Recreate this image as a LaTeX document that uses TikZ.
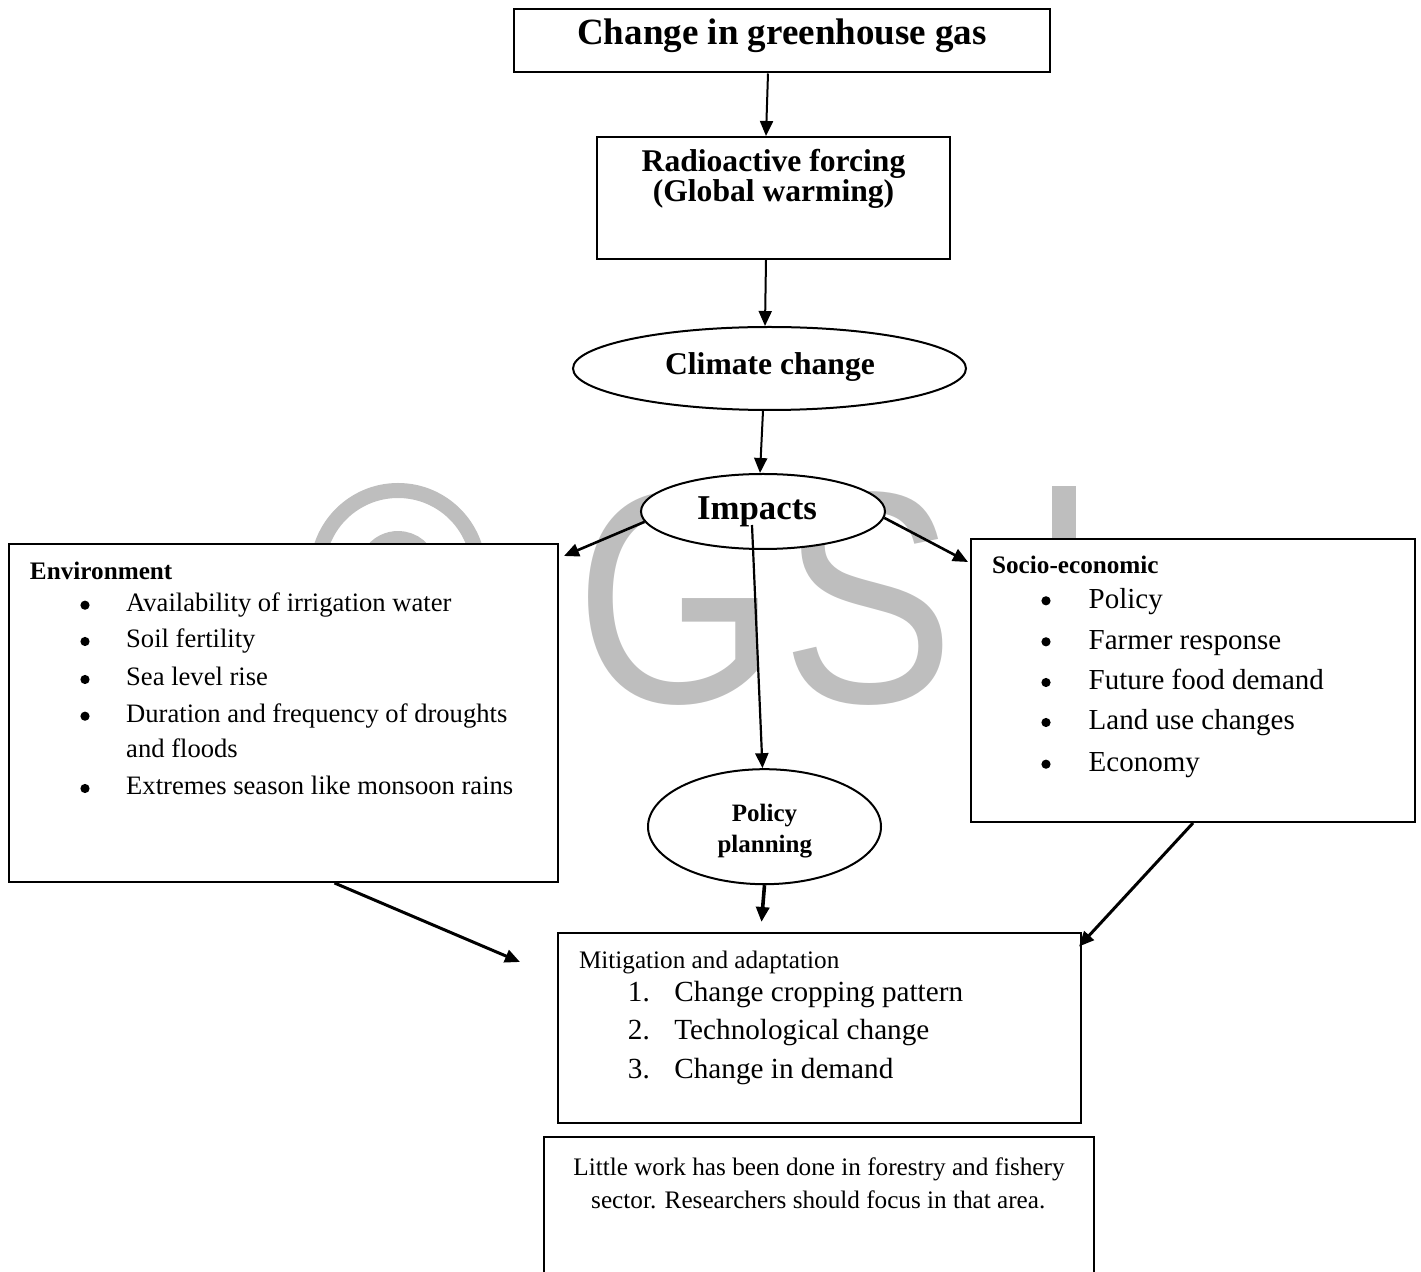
\documentclass[tikz,border=0pt]{standalone}
\usepackage{fontspec}
\usepackage{graphicx}
\setmainfont{Liberation Serif}
\newfontfamily\wmfont{Liberation Sans}
\usetikzlibrary{arrows.meta,shapes.geometric}
\definecolor{wmgray}{RGB}{190,190,190}
\newcommand{\fs}[1]{\fontsize{#1}{#1}\selectfont}
\tikzset{
  box/.style={draw, line width=1pt, fill=white, rectangle, inner sep=0pt},
  oval/.style={draw, line width=1pt, fill=white, ellipse, inner sep=0pt},
  arr/.style={-{Triangle[length=7.5pt,width=6.5pt]}, line width=1pt},
  txt/.style={inner sep=0pt, anchor=base west},
  ctxt/.style={inner sep=0pt, anchor=base},
  bul/.style={circle, fill=black, inner sep=0pt, minimum size=4.6pt},
  wmtxt/.style={inner sep=0pt, anchor=base west, text=wmgray, font=\wmfont\fs{151}}
}
\begin{document}
\begin{tikzpicture}[x=0.5pt,y=-0.5pt]
\useasboundingbox (0,0) rectangle (1421,1272);
% watermark
\draw[wmgray, line width=7.5pt] (398,571) circle[radius=80.5];
\draw[wmgray, line width=7.5pt] (398,571) ++(40:32.5) arc[start angle=40,end angle=320,radius=32.5];
\node[wmtxt] (wmG) at (575.5,703) {\scalebox{0.86}[1]{G}};
\node[wmtxt] (wmS) at (781,703) {\scalebox{0.86}[1]{S}};
\fill[wmgray] (1052,486) rectangle (1076,703);
% shapes
\node[box, minimum width=268pt, minimum height=31.75pt] (title) at (782,40.75) {};
\node[box, minimum width=176.5pt, minimum height=61pt] (radio) at (773.5,198) {};
\node[oval, minimum width=196.5pt, minimum height=41.5pt] (climate) at (769.5,368.5) {};
\node[oval, minimum width=122pt, minimum height=37.5pt] (impacts) at (763,511.5) {};
\node[box, minimum width=274.5pt, minimum height=169pt] (env) at (283.5,713) {};
\node[box, minimum width=222pt, minimum height=141.5pt] (socio) at (1193,680.5) {};
\node[oval, minimum width=116.5pt, minimum height=57.5pt] (pp) at (764.5,826.7) {};
\node[box, minimum width=261.5pt, minimum height=95pt] (mitig) at (819.5,1028) {};
\node[box, minimum width=275pt, minimum height=76.5pt] (note) at (819,1213.5) {};
% connectors
\draw[arr] ([xshift=-7pt]title.south) -- ([xshift=-3.75pt]radio.north);
\draw[arr] ([xshift=-3.75pt]radio.south) -- ([xshift=-2.25pt]climate.north);
\draw[arr] ([xshift=-3.25pt]climate.south) -- ([xshift=-1.5pt]impacts.north);
\draw[arr, line width=1.3pt] (impacts.185) -- ([shift={(5,13)}]env.north east);
\draw[arr, line width=1.3pt] (impacts.-3) -- ([shift={(-2,24)}]socio.north west);
\draw[arr, line width=1.1pt] ([shift={(-11,13.5)}]impacts.center) -- ([xshift=-1pt]pp.north);
\draw[arr, line width=1.8pt] (pp.south) -- ([shift={(-58,-10)}]mitig.north);
\draw[arr, line width=1.5pt] ([shift={(51,0)}]env.south) -- ([shift={(-37,30)}]mitig.north west);
\draw[arr, line width=1.5pt] (socio.south) -- ([shift={(-3,14.5)}]mitig.north east);
% texts
\node[ctxt, font=\bfseries\fs{18.5}] (tTitle) at (782,45) {Change in greenhouse gas};
\node[ctxt, font=\bfseries\fs{15.8}] (tRadA) at (773.5,172) {Radioactive forcing};
\node[ctxt, font=\bfseries\fs{15.8}] (tRadB) at (773.5,201.7) {(Global warming)};
\node[ctxt, font=\bfseries\fs{15.8}] (tClim) at (770,375) {Climate change};
\node[ctxt, font=\bfseries\fs{17.4}] (tImp) at (757,520) {Impacts};
% environment
\node[txt, font=\bfseries\fs{12.6}] (tEnv) at (29.6,580) {Environment};
\foreach \yy/\lbl [count=\i] in {611.7/Availability of irrigation water, 648/Soil fertility, 686/Sea level rise, 722.7/Duration and frequency of droughts, 795/Extremes season like monsoon rains}{
  \node[bul] (envb\i) at (85,\yy-6.5) {};
  \node[txt, font=\fs{13.3}] (envt\i) at (125.8,\yy) {\lbl};
}
\node[txt, font=\fs{13.3}] (envtx) at (125.8,758) {and floods};
% socio-economic
\node[txt, font=\bfseries\fs{12.6}] (tSoc) at (991.7,573.3) {Socio-economic};
\foreach \yy/\lbl [count=\i] in {608.3/Policy, 649.3/Farmer response, 690/Future food demand, 730/Land use changes, 771.7/Economy}{
  \node[bul] (socb\i) at (1046,\yy-7.5) {};
  \node[txt, font=\fs{14.5}] (soct\i) at (1088.3,\yy) {\lbl};
}
% policy planning
\node[ctxt, font=\bfseries\fs{12.5}] (tPolA) at (764.5,821.7) {Policy};
\node[ctxt, font=\bfseries\fs{12.5}] (tPolB) at (764.8,853) {planning};
% mitigation
\node[txt, font=\fs{12.6}] (tMit) at (578.6,968.3) {Mitigation and adaptation};
\foreach \yy/\lbl [count=\i] in {1001.7/Change cropping pattern, 1040/Technological change, 1078.3/Change in demand}{
  \node[txt, font=\fs{14.6}] (mitn\i) at (627.5,\yy) {\i.};
  \node[txt, font=\fs{14.6}] (mitt\i) at (674,\yy) {\lbl};
}
% note
\node[ctxt, font=\fs{12.6}] (tNoteA) at (819,1175) {Little work has been done in forestry and fishery};
\node[ctxt, font=\fs{12.6}] (tNoteB) at (818.3,1208.3) {sector. Researchers should focus in that area.};
\end{tikzpicture}
\end{document}
